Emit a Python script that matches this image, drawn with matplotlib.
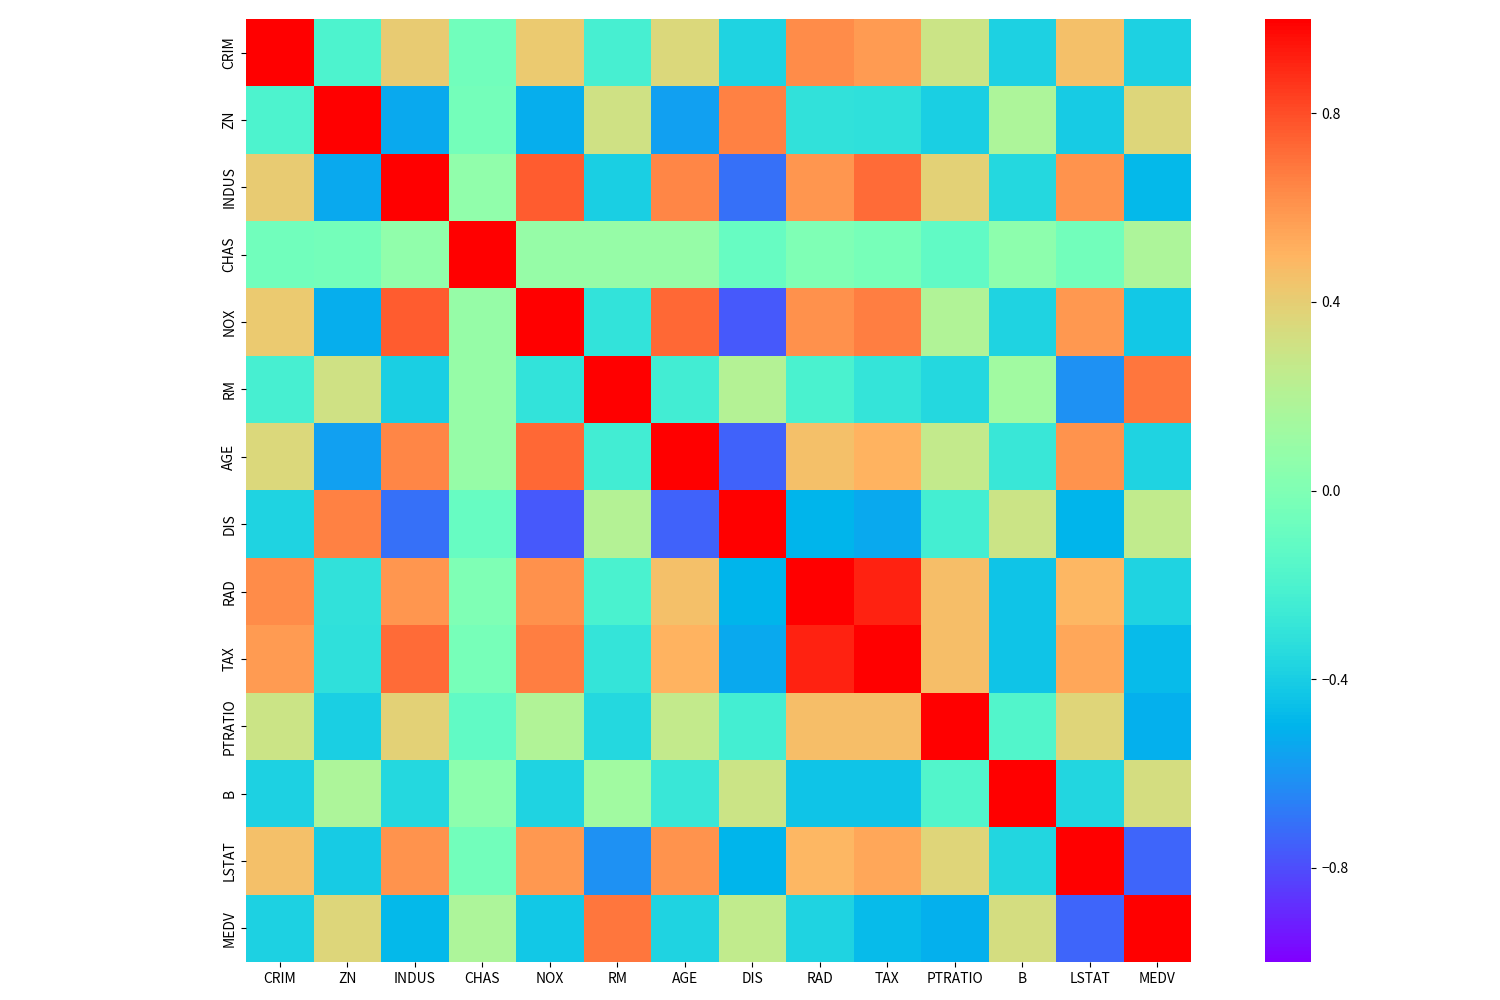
import numpy as np
import pandas as pd
import seaborn as sns
import matplotlib.pyplot as plt

plt.rcParams['font.family'] = ['Noto Sans CJK SC', 'DejaVu Sans']

# column names of the boston housing data
cols = ['CRIM', 'ZN', 'INDUS', 'CHAS', 'NOX', 'RM', 'AGE', 'DIS', 'RAD', 'TAX',
        'PTRATIO', 'B', 'LSTAT', 'MEDV']

# correlation matrix rows
crim = [1.000, -0.200, 0.407, -0.056, 0.421, -0.219, 0.353, -0.380, 0.626, 0.583, 0.290, -0.385, 0.456, -0.388]
zn = [-0.200, 1.000, -0.534, -0.043, -0.517, 0.312, -0.570, 0.664, -0.312, -0.315, -0.392, 0.176, -0.413, 0.360]
indus = [0.407, -0.534, 1.000, 0.063, 0.764, -0.392, 0.645, -0.708, 0.595, 0.721, 0.383, -0.357, 0.604, -0.484]
chas = [-0.056, -0.043, 0.063, 1.000, 0.091, 0.091, 0.087, -0.099, -0.007, -0.036, -0.122, 0.049, -0.054, 0.175]
nox = [0.421, -0.517, 0.764, 0.091, 1.000, -0.302, 0.731, -0.769, 0.611, 0.668, 0.189, -0.380, 0.591, -0.427]
rm = [-0.219, 0.312, -0.392, 0.091, -0.302, 1.000, -0.240, 0.205, -0.210, -0.292, -0.356, 0.128, -0.614, 0.695]
age = [0.353, -0.570, 0.645, 0.087, 0.731, -0.240, 1.000, -0.748, 0.456, 0.506, 0.262, -0.274, 0.602, -0.377]
dis = [-0.380, 0.664, -0.708, -0.099, -0.769, 0.205, -0.748, 1.000, -0.495, -0.534, -0.232, 0.292, -0.497, 0.250]
rad = [0.626, -0.312, 0.595, -0.007, 0.611, -0.210, 0.456, -0.495, 1.000, 0.910, 0.465, -0.444, 0.489, -0.382]
tax = [0.583, -0.315, 0.721, -0.036, 0.668, -0.292, 0.506, -0.534, 0.910, 1.000, 0.461, -0.442, 0.544, -0.469]
ptratio = [0.290, -0.392, 0.383, -0.122, 0.189, -0.356, 0.262, -0.232, 0.465, 0.461, 1.000, -0.177, 0.374, -0.508]
b = [-0.385, 0.176, -0.357, 0.049, -0.380, 0.128, -0.274, 0.292, -0.444, -0.442, -0.177, 1.000, -0.366, 0.333]
lstat = [0.456, -0.413, 0.604, -0.054, 0.591, -0.614, 0.602, -0.497, 0.489, 0.544, 0.374, -0.366, 1.000, -0.738]
medv = [-0.388, 0.360, -0.484, 0.175, -0.427, 0.695, -0.377, 0.250, -0.382, -0.469, -0.508, 0.333, -0.738, 1.000]

cbar_ticks = [-0.8, -0.4, 0.0, 0.4, 0.8]

corr = pd.DataFrame([crim, zn, indus, chas, nox, rm, age, dis, rad, tax, ptratio, b, lstat, medv],
                    index=cols, columns=cols)

fig = plt.figure(figsize=(15, 10), dpi=100)
ax = fig.add_axes([0.164, 0.038, 0.630, 0.943])
cax = fig.add_axes([0.843, 0.038, 0.0313, 0.943])
sns.heatmap(corr, vmin=-1, vmax=1, cmap='rainbow', ax=ax, cbar_ax=cax,
            cbar_kws={'ticks': cbar_ticks})
ax.tick_params(labelsize=10)
cax.tick_params(labelsize=10)
cax.set_yticklabels(['{:.1f}'.format(t).replace('-', '\u2212') for t in cbar_ticks])

plt.savefig('out.png')
